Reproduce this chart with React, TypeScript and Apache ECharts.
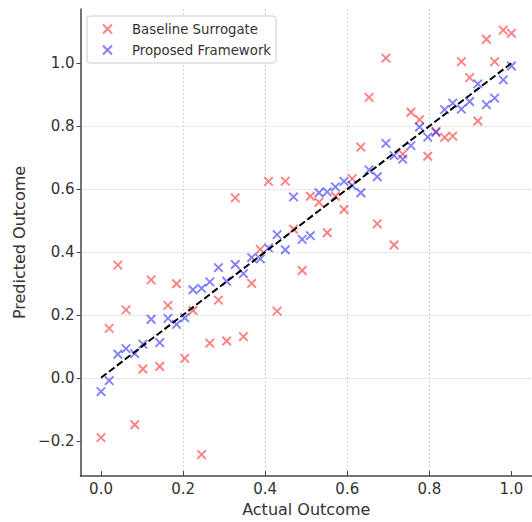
import React, { useEffect, useRef } from "react";
import * as echarts from "echarts";

// Actual outcome (x) positions, shared by both series
const actual = [
  0.0, 0.02, 0.041, 0.061, 0.082, 0.102, 0.122, 0.143, 0.163, 0.184,
  0.204, 0.224, 0.245, 0.265, 0.286, 0.306, 0.327, 0.347, 0.367, 0.388,
  0.408, 0.429, 0.449, 0.469, 0.49, 0.51, 0.531, 0.551, 0.571, 0.592,
  0.612, 0.633, 0.653, 0.673, 0.694, 0.714, 0.735, 0.755, 0.776, 0.796,
  0.816, 0.837, 0.857, 0.878, 0.898, 0.918, 0.939, 0.959, 0.98, 1.0,
];

// Predicted outcome, baseline surrogate
const baseline = [
  -0.19, 0.157, 0.358, 0.216, -0.149, 0.028, 0.311, 0.036, 0.23, 0.299,
  0.062, 0.214, -0.244, 0.11, 0.247, 0.117, 0.572, 0.131, 0.3, 0.408,
  0.624, 0.212, 0.625, 0.472, 0.341, 0.577, 0.558, 0.461, 0.577, 0.535,
  0.633, 0.733, 0.891, 0.489, 1.016, 0.422, 0.711, 0.844, 0.82, 0.704,
  0.783, 0.764, 0.768, 1.005, 0.954, 0.816, 1.076, 1.005, 1.105, 1.095,
];

// Predicted outcome, proposed framework
const proposed = [
  -0.044, -0.009, 0.075, 0.093, 0.077, 0.107, 0.186, 0.112, 0.189, 0.17,
  0.191, 0.28, 0.284, 0.305, 0.35, 0.307, 0.36, 0.331, 0.382, 0.378,
  0.413, 0.455, 0.407, 0.575, 0.44, 0.452, 0.588, 0.591, 0.607, 0.624,
  0.611, 0.588, 0.661, 0.639, 0.745, 0.706, 0.695, 0.738, 0.797, 0.765,
  0.78, 0.852, 0.873, 0.854, 0.878, 0.934, 0.868, 0.889, 0.947, 0.991,
];

const idealLine = [0, 1];
const xTicks = [0, 0.2, 0.4, 0.6, 0.8, 1.0];
const yTicks = [-0.2, 0, 0.2, 0.4, 0.6, 0.8, 1.0];

const FONT = "DejaVu Sans";
const CROSS = "path://M0,0L10,10M10,0L0,10";

const fmt = (v: number) => {
  const s = Math.abs(v).toFixed(1);
  return v < -1e-9 ? "\u2212" + s : s;
};

export default function App() {
  const ref = useRef<HTMLDivElement>(null);
  useEffect(() => {
    document.body.style.margin = "0";
    const chart = echarts.init(ref.current!, null, { renderer: "svg" });
    const gridLine = { show: true, showMinLine: false, showMaxLine: false, lineStyle: { color: "#d4d4d4", width: 1, type: [2, 2] } };
    chart.setOption({
      animation: false,
      backgroundColor: "#ffffff",
      textStyle: { fontFamily: FONT },
      grid: { left: 80.5, right: 0, top: 9, bottom: 45 },
      legend: {
        orient: "vertical",
        left: 87,
        top: 16,
        padding: [6, 5, 6, 15],
        itemWidth: 9,
        itemHeight: 9,
        itemGap: 7,
        backgroundColor: "rgba(255,255,255,0.85)",
        borderColor: "#cccccc",
        borderWidth: 1,
        borderRadius: 3,
        data: ["Baseline Surrogate", "Proposed Framework"],
        textStyle: { fontFamily: FONT, fontSize: 13.3, color: "#333", lineHeight: 14, padding: [0, 0, 0, 15] },
      },
      xAxis: {
        type: "value",
        min: -0.05,
        max: 1.05,
        splitNumber: 5,
        name: "Actual Outcome",
        nameLocation: "middle",
        nameGap: 25,
        nameTextStyle: { fontFamily: FONT, fontSize: 16, color: "#333" },
        axisLine: { show: true, onZero: false, lineStyle: { color: "#444", width: 1.5 } },
        axisTick: { show: true, inside: true, length: 5, customValues: xTicks, lineStyle: { color: "#444" } },
        axisLabel: { show: true, customValues: xTicks, margin: 5, fontFamily: FONT, fontSize: 15, color: "#333", formatter: fmt },
        splitLine: gridLine,
      },
      yAxis: {
        type: "value",
        min: -0.312,
        max: 1.172,
        splitNumber: 8,
        name: "Predicted Outcome",
        nameLocation: "middle",
        nameGap: 48,
        nameTextStyle: { fontFamily: FONT, fontSize: 16, color: "#333" },
        axisLine: { show: true, onZero: false, lineStyle: { color: "#444", width: 1.5 } },
        axisTick: { show: true, inside: false, length: 4, customValues: yTicks, lineStyle: { color: "#444" } },
        axisLabel: { show: true, customValues: yTicks, margin: 6, fontFamily: FONT, fontSize: 15, color: "#333", formatter: fmt },
        splitLine: gridLine,
      },
      series: [
        {
          name: "Baseline Surrogate",
          type: "scatter",
          symbol: CROSS,
          symbolSize: 8.5,
          z: 2,
          itemStyle: { color: "transparent", borderColor: "rgba(255,0,0,0.62)", borderWidth: 1.9 },
          data: actual.map((x, i) => [x, baseline[i]]),
        },
        {
          name: "Proposed Framework",
          type: "scatter",
          symbol: CROSS,
          symbolSize: 8.5,
          z: 3,
          itemStyle: { color: "transparent", borderColor: "rgba(0,0,255,0.62)", borderWidth: 1.9 },
          data: actual.map((x, i) => [x, proposed[i]]),
        },
        {
          name: "Ideal",
          type: "line",
          z: 4,
          symbol: "none",
          silent: true,
          lineStyle: { color: "#000", width: 2, type: [7, 3] },
          data: idealLine.map((v) => [v, v]),
        },
      ],
    });
    return () => chart.dispose();
  }, []);
  return <div ref={ref} style={{ width: 532, height: 522 }} />;
}
